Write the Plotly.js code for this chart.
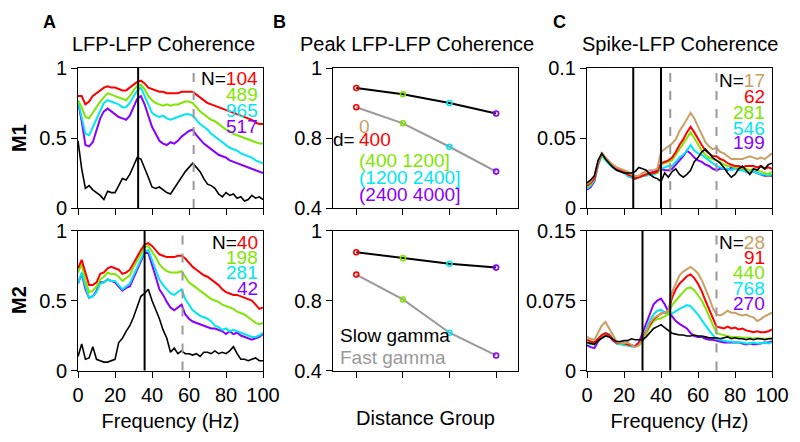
<!DOCTYPE html>
<html><head><meta charset="utf-8">
<script src="https://cdn.plot.ly/plotly-3.0.1.min.js"></script>
<style>html,body{margin:0;padding:0;background:#fff}#chart{width:800px;height:442px}</style>
</head><body><div id="chart"></div>
<script>
// ---------- data ----------
const freqs = [0,2,4,6,8,10,12,14,16,18,20,22,24,26,28,30,32,34,36,38,40,42,44,46,48,50,52,54,56,58,60,62,64,66,68,70,72,74,76,78,80,82,84,86,88,90,92,94,96,98,100];

// Panel A, M1 (LFP-LFP coherence)
const a1Red    = [0.80,0.80,0.74,0.76,0.80,0.82,0.84,0.86,0.87,0.86,0.86,0.85,0.84,0.84,0.86,0.88,0.90,0.91,0.89,0.86,0.85,0.84,0.83,0.83,0.82,0.82,0.82,0.82,0.83,0.83,0.83,0.83,0.81,0.79,0.77,0.75,0.74,0.73,0.72,0.71,0.70,0.69,0.68,0.67,0.66,0.65,0.64,0.63,0.61,0.60,0.60];
const a1Green  = [0.77,0.72,0.65,0.64,0.68,0.72,0.76,0.79,0.82,0.81,0.80,0.79,0.78,0.77,0.80,0.84,0.87,0.88,0.85,0.80,0.77,0.75,0.74,0.73,0.74,0.73,0.74,0.74,0.75,0.76,0.76,0.75,0.72,0.69,0.67,0.65,0.63,0.62,0.60,0.58,0.56,0.55,0.53,0.52,0.51,0.50,0.49,0.48,0.47,0.46,0.46];
const a1Cyan   = [0.76,0.65,0.53,0.52,0.58,0.64,0.70,0.75,0.77,0.76,0.75,0.74,0.72,0.72,0.75,0.80,0.84,0.86,0.80,0.73,0.68,0.66,0.65,0.66,0.64,0.63,0.64,0.65,0.66,0.67,0.67,0.66,0.63,0.60,0.58,0.56,0.53,0.51,0.49,0.47,0.45,0.43,0.42,0.41,0.39,0.38,0.37,0.36,0.34,0.33,0.32];
const a1Purple = [0.76,0.62,0.45,0.44,0.47,0.55,0.64,0.69,0.71,0.69,0.67,0.65,0.64,0.63,0.66,0.72,0.78,0.80,0.74,0.66,0.58,0.53,0.48,0.46,0.45,0.47,0.46,0.48,0.51,0.53,0.55,0.56,0.52,0.49,0.46,0.44,0.42,0.40,0.38,0.37,0.36,0.34,0.33,0.32,0.31,0.30,0.29,0.28,0.27,0.26,0.25];
const a1Black  = [0.48,0.28,0.14,0.16,0.13,0.11,0.09,0.06,0.12,0.11,0.11,0.16,0.21,0.20,0.24,0.30,0.36,0.35,0.29,0.22,0.15,0.14,0.15,0.13,0.11,0.10,0.14,0.18,0.22,0.26,0.29,0.32,0.29,0.26,0.21,0.17,0.16,0.14,0.10,0.08,0.11,0.09,0.10,0.07,0.08,0.05,0.06,0.09,0.07,0.08,0.06];
const a1N = ["104","489","965","517"];
const a1Bands = {slow: [32.5], fast: [62.5]};

// Panel A, M2
const a2Red    = [0.73,0.79,0.70,0.61,0.61,0.63,0.69,0.70,0.73,0.74,0.73,0.72,0.69,0.70,0.72,0.77,0.81,0.86,0.90,0.91,0.89,0.86,0.83,0.82,0.81,0.81,0.81,0.82,0.82,0.80,0.77,0.74,0.72,0.70,0.68,0.67,0.65,0.63,0.61,0.58,0.56,0.55,0.54,0.54,0.53,0.52,0.51,0.50,0.47,0.44,0.45];
const a2Green  = [0.70,0.76,0.64,0.56,0.57,0.60,0.65,0.67,0.70,0.69,0.69,0.67,0.64,0.66,0.68,0.74,0.79,0.84,0.88,0.89,0.85,0.81,0.76,0.73,0.71,0.70,0.70,0.70,0.71,0.67,0.63,0.61,0.59,0.57,0.55,0.53,0.51,0.50,0.49,0.47,0.46,0.45,0.44,0.42,0.41,0.40,0.38,0.36,0.34,0.33,0.34];
const a2Cyan   = [0.62,0.70,0.60,0.52,0.53,0.56,0.62,0.63,0.65,0.64,0.64,0.61,0.58,0.60,0.62,0.68,0.74,0.80,0.85,0.86,0.79,0.72,0.65,0.61,0.58,0.55,0.54,0.56,0.58,0.51,0.47,0.43,0.41,0.39,0.38,0.37,0.35,0.32,0.31,0.29,0.30,0.28,0.29,0.28,0.27,0.26,0.25,0.24,0.24,0.25,0.27];
const a2Purple = [0.62,0.69,0.58,0.52,0.53,0.57,0.63,0.63,0.65,0.64,0.63,0.60,0.57,0.59,0.60,0.66,0.72,0.79,0.84,0.84,0.76,0.67,0.58,0.54,0.49,0.45,0.43,0.45,0.47,0.40,0.37,0.35,0.34,0.33,0.32,0.31,0.30,0.30,0.29,0.28,0.26,0.28,0.26,0.27,0.25,0.24,0.23,0.22,0.23,0.24,0.26];
const a2Black  = [0.10,0.19,0.08,0.09,0.17,0.08,0.07,0.06,0.06,0.07,0.08,0.20,0.23,0.28,0.32,0.38,0.45,0.53,0.55,0.58,0.50,0.44,0.37,0.29,0.23,0.13,0.16,0.12,0.14,0.12,0.12,0.11,0.12,0.10,0.13,0.13,0.12,0.14,0.12,0.13,0.12,0.14,0.17,0.12,0.08,0.08,0.07,0.08,0.09,0.07,0.07];
const a2N = ["40","198","281","42"];
const a2Bands = {slow: [36], fast: [56.5]};

// Panel B (peak coherence by distance group)
const distGroups = [1,2,3,4];
const groupLabels = ["0","400","(400 1200]","(1200 2400]","(2400 4000]"];
const b1Slow = [0.943,0.925,0.900,0.870];
const b1Fast = [0.888,0.842,0.775,0.704];
const b2Slow = [0.938,0.921,0.905,0.894];
const b2Fast = [0.874,0.803,0.708,0.643];
const bTickVals = [0.6,0.8,1];
const bTickText = ["0.4","0.8","1"];

// Panel C, M1 (spike-LFP coherence)
const c1Tan    = [0.017,0.019,0.023,0.033,0.039,0.036,0.033,0.031,0.029,0.028,0.027,0.026,0.024,0.023,0.023,0.025,0.026,0.027,0.027,0.028,0.040,0.042,0.044,0.046,0.049,0.055,0.059,0.064,0.068,0.064,0.058,0.052,0.047,0.044,0.042,0.043,0.040,0.039,0.037,0.035,0.035,0.035,0.035,0.036,0.037,0.036,0.035,0.036,0.035,0.037,0.039];
const c1Red    = [0.016,0.018,0.021,0.032,0.039,0.036,0.033,0.030,0.028,0.027,0.026,0.024,0.023,0.021,0.022,0.023,0.024,0.025,0.025,0.026,0.032,0.033,0.034,0.036,0.040,0.045,0.049,0.054,0.058,0.054,0.049,0.045,0.041,0.039,0.037,0.037,0.035,0.034,0.032,0.031,0.030,0.030,0.029,0.030,0.030,0.030,0.029,0.030,0.028,0.029,0.028];
const c1Green  = [0.015,0.017,0.021,0.032,0.038,0.035,0.032,0.030,0.028,0.027,0.026,0.024,0.023,0.022,0.022,0.023,0.024,0.025,0.025,0.025,0.031,0.032,0.033,0.034,0.038,0.042,0.046,0.050,0.054,0.050,0.045,0.041,0.038,0.036,0.035,0.034,0.033,0.031,0.030,0.030,0.029,0.029,0.028,0.028,0.027,0.028,0.027,0.026,0.025,0.024,0.026];
const c1Cyan   = [0.014,0.016,0.020,0.031,0.037,0.034,0.031,0.029,0.027,0.026,0.025,0.023,0.022,0.021,0.022,0.023,0.023,0.024,0.024,0.025,0.028,0.029,0.030,0.030,0.033,0.036,0.038,0.041,0.045,0.041,0.039,0.038,0.036,0.034,0.032,0.030,0.029,0.028,0.028,0.027,0.028,0.027,0.027,0.026,0.025,0.026,0.025,0.024,0.024,0.023,0.024];
const c1Purple = [0.013,0.015,0.019,0.031,0.038,0.035,0.032,0.030,0.028,0.027,0.026,0.023,0.022,0.021,0.022,0.023,0.024,0.025,0.026,0.027,0.028,0.027,0.027,0.028,0.031,0.034,0.037,0.041,0.039,0.036,0.034,0.033,0.031,0.030,0.028,0.027,0.028,0.028,0.027,0.029,0.028,0.029,0.027,0.026,0.025,0.026,0.025,0.024,0.023,0.023,0.023];
const c1Black  = [0.018,0.020,0.023,0.034,0.039,0.035,0.032,0.029,0.027,0.026,0.025,0.025,0.025,0.026,0.029,0.028,0.027,0.024,0.022,0.021,0.019,0.025,0.022,0.026,0.028,0.024,0.022,0.024,0.027,0.033,0.036,0.040,0.042,0.039,0.036,0.034,0.032,0.029,0.025,0.022,0.024,0.028,0.030,0.027,0.024,0.028,0.027,0.030,0.028,0.031,0.032];
const c1N = ["17","62","281","546","199"];
const c1Bands = {slow: [25,40], fast: [45,70]};

// Panel C, M2
const c2Tan    = [0.036,0.034,0.033,0.041,0.048,0.052,0.045,0.037,0.031,0.030,0.029,0.030,0.027,0.025,0.027,0.033,0.042,0.051,0.056,0.059,0.061,0.062,0.064,0.084,0.094,0.102,0.106,0.109,0.111,0.108,0.104,0.097,0.088,0.078,0.067,0.060,0.059,0.061,0.064,0.062,0.062,0.060,0.059,0.060,0.058,0.057,0.053,0.055,0.058,0.060,0.062];
const c2Red    = [0.033,0.031,0.030,0.034,0.038,0.040,0.038,0.033,0.030,0.030,0.029,0.028,0.027,0.026,0.029,0.035,0.042,0.049,0.055,0.058,0.061,0.062,0.064,0.078,0.087,0.093,0.097,0.101,0.103,0.099,0.093,0.085,0.075,0.065,0.055,0.047,0.046,0.045,0.047,0.045,0.046,0.044,0.045,0.043,0.042,0.041,0.042,0.041,0.041,0.042,0.044];
const c2Green  = [0.030,0.029,0.028,0.033,0.037,0.039,0.038,0.034,0.030,0.029,0.029,0.028,0.027,0.026,0.027,0.031,0.039,0.047,0.053,0.055,0.056,0.058,0.061,0.070,0.075,0.080,0.084,0.088,0.089,0.086,0.081,0.075,0.067,0.058,0.048,0.040,0.039,0.038,0.037,0.036,0.036,0.036,0.035,0.035,0.035,0.034,0.035,0.034,0.034,0.034,0.035];
const c2Cyan   = [0.029,0.028,0.028,0.033,0.038,0.040,0.039,0.034,0.029,0.028,0.027,0.027,0.026,0.026,0.028,0.035,0.045,0.054,0.060,0.064,0.065,0.062,0.060,0.061,0.064,0.066,0.068,0.070,0.069,0.065,0.060,0.054,0.048,0.043,0.038,0.034,0.033,0.032,0.031,0.031,0.030,0.030,0.030,0.029,0.029,0.030,0.029,0.029,0.030,0.029,0.030];
const c2Purple = [0.027,0.025,0.024,0.031,0.036,0.038,0.037,0.032,0.029,0.029,0.028,0.027,0.026,0.026,0.030,0.040,0.051,0.062,0.071,0.075,0.077,0.071,0.063,0.058,0.053,0.050,0.047,0.045,0.040,0.037,0.036,0.036,0.034,0.033,0.033,0.032,0.031,0.030,0.030,0.030,0.030,0.030,0.029,0.028,0.029,0.028,0.028,0.029,0.030,0.030,0.031];
const c2Black  = [0.030,0.029,0.028,0.032,0.035,0.037,0.036,0.033,0.031,0.031,0.032,0.032,0.034,0.033,0.033,0.033,0.036,0.040,0.045,0.047,0.049,0.046,0.043,0.040,0.039,0.038,0.038,0.037,0.037,0.038,0.037,0.037,0.036,0.035,0.035,0.035,0.034,0.035,0.036,0.034,0.035,0.034,0.034,0.033,0.034,0.033,0.034,0.034,0.033,0.034,0.034];
const c2N = ["28","91","440","768","270"];
const c2Bands = {slow: [30,45], fast: [70]};

// ---------- styles ----------
const FONT = "Liberation Sans, Arial, Helvetica, sans-serif";
const COL = {tan:"#c9a064", red:"#ff0000", green:"#7ee600", cyan:"#00e6f2", purple:"#8800ff", black:"#000000", gray:"#999999"};
const W = 800, H = 442;
const px = x => x / W, py = y => 1 - y / H;

const traces = [];
function line(xa, ya, x, y, color, width) {
  traces.push({type:"scatter", mode:"lines", x:x, y:y, xaxis:xa, yaxis:ya,
    line:{color:color, width:width}, hoverinfo:"skip", showlegend:false});
}
// A1
[[a1Purple,COL.purple],[a1Cyan,COL.cyan],[a1Green,COL.green],[a1Red,COL.red]].forEach(d=>line("x","y",freqs,d[0],d[1],2));
line("x","y",freqs,a1Black,COL.black,1.6);
// A2
[[a2Purple,COL.purple],[a2Cyan,COL.cyan],[a2Green,COL.green],[a2Red,COL.red]].forEach(d=>line("x4","y4",freqs,d[0],d[1],2));
line("x4","y4",freqs,a2Black,COL.black,1.6);
// C1
[[c1Purple,COL.purple],[c1Cyan,COL.cyan],[c1Green,COL.green],[c1Red,COL.red],[c1Tan,COL.tan]].forEach(d=>line("x3","y3",freqs,d[0],d[1],2));
line("x3","y3",freqs,c1Black,COL.black,1.6);
// C2
[[c2Purple,COL.purple],[c2Cyan,COL.cyan],[c2Green,COL.green],[c2Red,COL.red],[c2Tan,COL.tan]].forEach(d=>line("x6","y6",freqs,d[0],d[1],2));
line("x6","y6",freqs,c2Black,COL.black,1.6);
// B
const markerCols = [COL.red, COL.green, COL.cyan, COL.purple];
function peak(xa, ya, y, color) {
  traces.push({type:"scatter", mode:"lines+markers", x:distGroups, y:y, xaxis:xa, yaxis:ya,
    line:{color:color, width:2},
    marker:{symbol:"circle-open", size:5, color:markerCols, line:{color:markerCols, width:1.6}},
    hoverinfo:"skip", showlegend:false});
}
peak("x2","y2",b1Slow,COL.black); peak("x2","y2",b1Fast,COL.gray);
peak("x5","y5",b2Slow,COL.black); peak("x5","y5",b2Fast,COL.gray);

// ---------- layout ----------
const colDom = [[78/W,263/W],[333/W,518/W],[587/W,772/W]];
const rowDom = [[py(208),py(68)],[py(370.5),py(230.5)]];
const tickFont = {family:FONT, size:20, color:"#000"};
function xax(dom, anchor, range, tv, labels, title) {
  const a = {domain:dom, anchor:anchor, range:range, tickvals:tv, showticklabels:labels,
    ticks:"outside", ticklen:6, tickwidth:1, tickcolor:"#000", showline:true, mirror:true,
    linecolor:"#000", linewidth:1, showgrid:false, zeroline:false, tickfont:tickFont, fixedrange:true};
  if (title) a.title = {text:title, font:{family:FONT, size:20, color:"#000"}, standoff:9};
  return a;
}
function yax(dom, anchor, range, tv, tt) {
  return {domain:dom, anchor:anchor, range:range, tickvals:tv, ticktext:tt,
    ticks:"outside", ticklen:6, tickwidth:1, tickcolor:"#000", showline:true, mirror:true,
    linecolor:"#000", linewidth:1, showgrid:false, zeroline:false, tickfont:tickFont, fixedrange:true};
}
const fTicks = [0,20,40,60,80,100];
const layout = {
  width:W, height:H, autosize:false, margin:{l:0,r:0,t:0,b:0},
  paper_bgcolor:"#fff", plot_bgcolor:"#fff", font:{family:FONT, color:"#000"},
  showlegend:false,
  xaxis:  xax(colDom[0],"y",[0,100],fTicks,false),
  yaxis:  yax(rowDom[0],"x",[0,1],[0,0.5,1],["0","0.5","1"]),
  xaxis2: xax(colDom[1],"y2",[0.5,4.47],distGroups,false),
  yaxis2: yax(rowDom[0],"x2",[0.6,1],bTickVals,bTickText),
  xaxis3: xax(colDom[2],"y3",[0,100],fTicks,false),
  yaxis3: yax(rowDom[0],"x3",[0,0.1],[0,0.05,0.1],["0","0.05","0.1"]),
  xaxis4: xax(colDom[0],"y4",[0,100],fTicks,true,"Frequency (Hz)"),
  yaxis4: yax(rowDom[1],"x4",[0,1],[0,0.5,1],["0","0.5","1"]),
  xaxis5: xax(colDom[1],"y5",[0.5,4.47],distGroups,false,"Distance Group"),
  yaxis5: yax(rowDom[1],"x5",[0.6,1],bTickVals,bTickText),
  xaxis6: xax(colDom[2],"y6",[0,100],fTicks,true,"Frequency (Hz)"),
  yaxis6: yax(rowDom[1],"x6",[0,0.15],[0,0.075,0.15],["0","0.075","0.15"]),
  shapes:[], annotations:[]
};
// the x-axis title for B bottom sits as low as the frequency titles
layout.xaxis5.title.standoff = 34;

function bands(xa, b) {
  b.slow.forEach(v => layout.shapes.push({type:"line", xref:xa, yref:xa.replace("x","y")+" domain", x0:v, x1:v, y0:0, y1:1, layer:"above", line:{color:"#000", width:2}}));
  b.fast.forEach(v => layout.shapes.push({type:"line", xref:xa, yref:xa.replace("x","y")+" domain", x0:v, x1:v, y0:0, y1:1, layer:"above", line:{color:COL.gray, width:2, dash:"dash"}}));
}
bands("x", a1Bands); bands("x4", a2Bands); bands("x3", c1Bands); bands("x6", c2Bands);

function ann(x, y, text, o) {
  layout.annotations.push(Object.assign({xref:"paper", yref:"paper", x:px(x), y:py(y), text:text, showarrow:false,
    xanchor:"center", yanchor:"middle", font:{family:FONT, size:20, color:"#000"}}, o||{}));
}
// panel letters and titles
ann(49,22,"<b>A</b>",{font:{family:FONT,size:18,color:"#000"}});
ann(279,22,"<b>B</b>",{font:{family:FONT,size:18,color:"#000"}});
ann(559,22,"<b>C</b>",{font:{family:FONT,size:18,color:"#000"}});
ann(163.5,44,"LFP-LFP Coherence");
ann(416.5,44,"Peak LFP-LFP Coherence");
ann(680,44,"Spike-LFP Coherence");
ann(19,138,"<b>M1</b>",{textangle:-90});
ann(19,300,"<b>M2</b>",{textangle:-90});

// N legends
function nLegend(xr, ys, nums, cols) {
  nums.forEach((n,i) => {
    const t = (i===0 ? "N=" : "") + '<span style="color:'+cols[i]+'">'+n+'</span>';
    ann(xr, ys[i], t, {xanchor:"right", font:{family:FONT,size:19,color:"#000"}});
  });
}
const aCols = [COL.red, COL.green, COL.cyan, COL.purple];
const cCols = [COL.tan, COL.red, COL.green, COL.cyan, COL.purple];
nLegend(260, [78,94,110,126], a1N, aCols);
nLegend(260, [242,257,272,288], a2N, aCols);
nLegend(767, [80,96,112,128,143], c1N, cCols);
nLegend(767, [242,257,272,288,303], c2N, cCols);

// B distance legend
const bCols = [COL.tan, COL.red, COL.green, COL.cyan, COL.purple];
const bYs = [127,139,160,177,194];
groupLabels.forEach((g,i) => ann(357, bYs[i], g, {xanchor:"left", font:{family:FONT,size:19,color:bCols[i]}}));
ann(357, bYs[1], "d=", {xanchor:"right", font:{family:FONT,size:19,color:"#000"}});
ann(338, 335, "Slow gamma", {xanchor:"left", font:{family:FONT,size:19,color:"#000"}});
ann(338, 357, "Fast gamma", {xanchor:"left", font:{family:FONT,size:19,color:COL.gray}});

Plotly.newPlot("chart", traces, layout, {staticPlot:true, displayModeBar:false});
</script>
</body></html>
